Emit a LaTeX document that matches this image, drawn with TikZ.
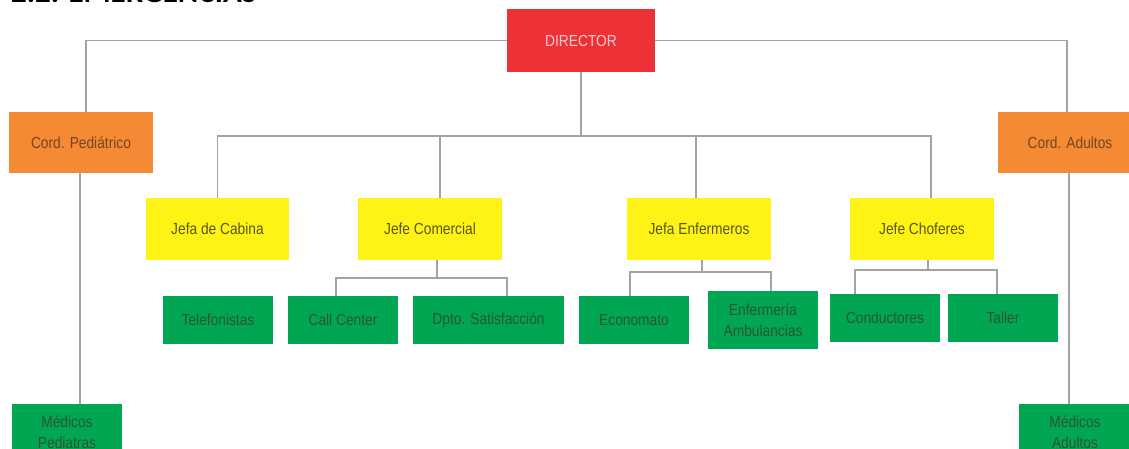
\documentclass[tikz,border=0pt]{standalone}
\usepackage{fontspec}
\setmainfont{Liberation Sans}
\newfontfamily\titlefont{Carlito}
\definecolor{cred}{HTML}{EC3237}
\definecolor{corange}{HTML}{F58A35}
\definecolor{cyellow}{HTML}{FFF315}
\definecolor{cgreen}{HTML}{00A651}
\definecolor{tred}{HTML}{F7CACC}
\definecolor{torange}{HTML}{77451F}
\definecolor{tyellow}{HTML}{58561A}
\definecolor{tgreen}{HTML}{2A5536}
\definecolor{cline}{HTML}{A3A3A3}
\newcommand{\nar}[1]{\scalebox{0.86}[1]{#1}}
\tikzset{
  box/.style={inner sep=0pt, align=center, font=\fontsize{16}{21}\selectfont},
  redbox/.style={box, fill=cred, text=tred},
  orangebox/.style={box, fill=corange, text=torange},
  yellowbox/.style={box, fill=cyellow, text=tyellow},
  greenbox/.style={box, fill=cgreen, text=tgreen},
  link/.style={draw=cline, line width=1.5pt},
}
\begin{document}
\begin{tikzpicture}[x=1pt, y=-1pt]
\useasboundingbox (0,0) rectangle (1129,449);
\clip (0,0) rectangle (1129,449);
\fill[white] (0,0) rectangle (1129,449);
% title (cut at top edge, as in the reference)
\node[anchor=base west, inner sep=0pt, font=\titlefont\bfseries\fontsize{31}{32}\selectfont] (title) at (11,2.5) {2.2. EMERGENCIAS};
% nodes
\node[redbox, minimum width=148pt, minimum height=63pt] (dir) at (581,40.5) {\nar{DIRECTOR}};
\node[orangebox, minimum width=144pt, minimum height=61pt] (cped) at (81,142.5) {\nar{Cord. Pediátrico}};
\node[orangebox, minimum width=144pt, minimum height=61pt] (cad) at (1070,142.5) {\nar{Cord. Adultos}};
\node[yellowbox, minimum width=143pt, minimum height=62pt] (jcab) at (217.5,229) {\nar{Jefa de Cabina}};
\node[yellowbox, minimum width=144pt, minimum height=62pt] (jcom) at (430,229) {\nar{Jefe Comercial}};
\node[yellowbox, minimum width=144pt, minimum height=62pt] (jenf) at (699,229) {\nar{Jefa Enfermeros}};
\node[yellowbox, minimum width=144pt, minimum height=62pt] (jcho) at (922,229) {\nar{Jefe Choferes}};
\node[greenbox, minimum width=110pt, minimum height=48pt] (tel) at (218,320) {\nar{Telefonistas}};
\node[greenbox, minimum width=110pt, minimum height=48pt] (call) at (343,320) {\nar{Call Center}};
\node[greenbox, minimum width=151pt, minimum height=48pt] (dpto) at (488.5,320) {\nar{Dpto. Satisfacción}};
\node[greenbox, minimum width=110pt, minimum height=48pt] (eco) at (634,320) {\nar{Economato}};
\node[greenbox, minimum width=110pt, minimum height=58pt] (enfa) at (763,320) {\nar{Enfermería}\\\nar{Ambulancias}};
\node[greenbox, minimum width=110pt, minimum height=48pt] (cond) at (885,318) {\nar{Conductores}};
\node[greenbox, minimum width=110pt, minimum height=48pt] (taller) at (1003,318) {\nar{Taller}};
\node[greenbox, minimum width=110pt, minimum height=56pt] (mped) at (67,432) {\nar{Médicos}\\\nar{Pediatras}};
\node[greenbox, minimum width=112pt, minimum height=56pt] (mad) at (1075,432) {\nar{Médicos}\\\nar{Adultos}};
% connectors
\coordinate (bus) at (581,136);
\coordinate (comb) at (437,278);
\coordinate (enfb) at (702,272);
\coordinate (chob) at (928,270);
\draw[link] ([xshift=5pt]cped.north) |- (dir.west);
\draw[link] (dir.east) -| ([xshift=-3pt]cad.north);
\draw[link] ([xshift=-1pt]cped.south) -- ([xshift=-1pt]cped.south |- mped.north);
\draw[link] ([xshift=-1pt]cad.south) -- ([xshift=-1pt]cad.south |- mad.north);
\draw[link] (dir.south) -- (bus);
\draw[link] (jcab.north) |- (bus);
\draw[link] (bus) -| ([xshift=9pt]jcho.north);
\draw[link] ([xshift=10pt]jcom.north) -- ([xshift=10pt]jcom.north |- bus);
\draw[link] ([xshift=-3pt]jenf.north) -- ([xshift=-3pt]jenf.north |- bus);
\draw[link] (jcom.south -| comb) -- (comb);
\draw[link] ([xshift=-7pt]call.north) |- (comb) -| ([xshift=18.5pt]dpto.north);
\draw[link] (jenf.south -| enfb) -- (enfb);
\draw[link] ([xshift=-4pt]eco.north) |- (enfb) -| ([xshift=8pt]enfa.north);
\draw[link] (jcho.south -| chob) -- (chob);
\draw[link] ([xshift=-30pt]cond.north) |- (chob) -| ([xshift=-6pt]taller.north);
\end{tikzpicture}
\end{document}
